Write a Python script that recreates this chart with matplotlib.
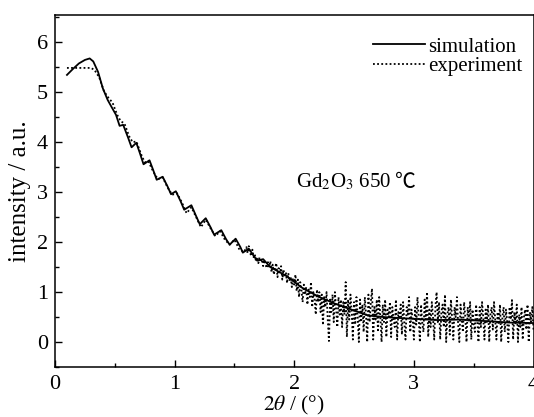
import matplotlib
matplotlib.use("Agg")
import matplotlib.pyplot as plt
import numpy as np

plt.rcParams['font.family'] = ['Liberation Serif', 'DejaVu Serif', 'Noto Sans CJK SC']
plt.rcParams['mathtext.fontset'] = 'stix'

# simulation curve
sim_x = [0.10, 0.15, 0.20, 0.25, 0.29, 0.32, 0.36, 0.40, 0.44, 0.47, 0.51, 0.54, 0.57,
         0.61, 0.64, 0.68, 0.71, 0.74, 0.79, 0.82, 0.85, 0.90, 0.94, 0.97, 1.01, 1.05,
         1.08, 1.14, 1.18, 1.21, 1.26, 1.30, 1.33, 1.39, 1.43, 1.46, 1.51, 1.55, 1.57,
         1.62, 1.66, 1.69, 1.74, 1.80, 1.93, 2.07, 2.21, 2.35, 2.49, 2.62, 2.75, 2.96,
         3.20, 3.38, 3.60, 3.80, 4.00]
sim_y = [5.35, 5.47, 5.58, 5.65, 5.68, 5.62, 5.41, 5.08, 4.85, 4.72, 4.55, 4.33, 4.35,
         4.10, 3.90, 3.99, 3.78, 3.56, 3.64, 3.45, 3.25, 3.31, 3.12, 2.96, 3.02, 2.82,
         2.65, 2.74, 2.52, 2.36, 2.48, 2.30, 2.15, 2.24, 2.06, 1.95, 2.07, 1.90, 1.79,
         1.87, 1.73, 1.63, 1.66, 1.50, 1.33, 1.08, 0.90, 0.76, 0.64, 0.53, 0.50, 0.47,
         0.44, 0.45, 0.42, 0.39, 0.38]

# experiment: smooth part
exp_x1 = [0.10, 0.15, 0.20, 0.25, 0.30, 0.33, 0.37, 0.41, 0.45, 0.48, 0.52, 0.55, 0.58,
          0.62, 0.65, 0.68, 0.72, 0.75, 0.78, 0.82, 0.86, 0.90, 0.94, 0.98, 1.02, 1.06,
          1.10, 1.14, 1.18, 1.22, 1.26, 1.30, 1.34, 1.38, 1.42, 1.46, 1.50, 1.54, 1.58]
exp_y1 = [5.49, 5.49, 5.49, 5.49, 5.49, 5.45, 5.30, 5.02, 4.88, 4.80, 4.55, 4.42, 4.38,
          4.12, 4.00, 4.02, 3.76, 3.60, 3.62, 3.42, 3.26, 3.30, 3.10, 2.95, 2.98, 2.80,
          2.58, 2.70, 2.50, 2.30, 2.45, 2.28, 2.12, 2.22, 2.05, 1.95, 2.05, 1.86, 1.80]
# experiment: noisy part, x from 1.60 to 4.00 step 0.01
exp_y2 = [1.90, 1.78, 1.92, 1.80, 1.72, 1.85, 1.70, 1.76, 1.62, 1.70,
          1.58, 1.70, 1.60, 1.66, 1.52, 1.64, 1.55, 1.48, 1.60, 1.50,
          1.62, 1.40, 1.55, 1.35, 1.50, 1.58, 1.30, 1.48, 1.38, 1.52,
          1.25, 1.45, 1.30, 1.40, 1.18, 1.38, 1.22, 1.30, 1.10, 1.28,
          1.15, 1.35, 1.02, 1.25, 0.90, 1.20, 1.05, 0.80, 1.15, 0.95,
          1.10, 0.75, 1.05, 0.90, 1.20, 0.70, 1.00, 0.85, 0.55, 1.05,
          0.80, 1.00, 0.60, 0.95, 0.34, 0.90, 0.70, 1.00, 0.45, 0.02,
          0.85, 0.60, 0.95, 0.40, 1.00, 0.65, 0.30, 0.90, 0.55, 0.85,
          0.30, 0.80, 0.55, 1.20, 0.10, 0.85, 0.45, 0.95, 0.60, 0.05,
          0.80, 0.35, 0.90, 0.50, 0.00, 0.85, 0.40, 0.75, 0.20, 0.90,
          0.55, 0.00, 0.95, 0.40, 0.80, 1.07, 0.05, 0.70, 0.45, 0.85,
          0.20, 0.90, 0.50, 0.00, 0.75, 0.40, 0.85, 0.10, 0.65, 0.50,
          0.80, 0.10, 0.70, 0.45, 0.30, 0.85, 0.05, 0.60, 0.50, 0.75,
          0.15, 0.80, 0.40, 0.05, 0.70, 0.55, 0.90, 0.20, 0.65, 0.45,
          0.05, 0.70, 0.35, 0.90, 0.50, 0.00, 0.75, 0.40, 0.20, 0.85,
          0.45, 1.00, 0.10, 0.65, 0.30, 0.80, 0.50, 0.05, 0.70, 1.00,
          0.40, 0.80, 0.05, 0.60, 0.75, 0.30, 0.95, 0.00, 0.55, 0.70,
          0.15, 0.85, 0.45, 0.05, 0.70, 0.50, 0.90, 0.35, 0.00, 0.75,
          0.45, 0.20, 0.80, 0.50, 0.00, 0.70, 0.40, 0.80, 0.05, 0.65,
          0.35, 0.20, 0.75, 0.45, 0.00, 0.70, 0.30, 0.80, 0.50, 0.05,
          0.65, 0.40, 0.75, 0.00, 0.55, 0.70, 0.25, 0.80, 0.45, 0.05,
          0.60, 0.35, 0.75, 0.00, 0.50, 0.70, 0.20, 0.65, 0.40, 0.00,
          0.70, 0.45, 0.84, 0.05, 0.60, 0.35, 0.75, 0.00, 0.55, 0.30,
          0.70, 0.05, 0.50, 0.65, 0.25, 0.75, 0.00, 0.60, 0.40, 0.70,
          0.25]
exp_x2 = list(np.round(np.arange(len(exp_y2)) * 0.01 + 1.60, 2))

exp_x = exp_x1 + exp_x2
exp_y = exp_y1 + exp_y2

fig = plt.figure(figsize=(5.34, 4.17), dpi=100)
ax = fig.add_axes([55/534, 1 - 367/417, 478.5/534, (367-15)/417])

ax.plot(sim_x, sim_y, color='black', lw=1.3, label='simulation')
ax.plot(exp_x, exp_y, color='black', lw=1.3, linestyle=(0, (1, 1.3)), label='experiment')

ax.set_xlim(0, 4.0)
ax.set_ylim(-0.5, 6.55)
ax.set_xticks([0, 1, 2, 3, 4])
ax.set_yticks([0, 1, 2, 3, 4, 5, 6])
ax.set_xticks([0.5, 1.5, 2.5, 3.5], minor=True)
ax.set_yticks([-0.5, 0.5, 1.5, 2.5, 3.5, 4.5, 5.5, 6.5], minor=True)
ax.tick_params(which='both', direction='in', labelsize=16, width=1.0)
ax.tick_params(which='major', length=5)
ax.tick_params(which='minor', length=3)
ax.tick_params(axis='y', pad=5)
ax.tick_params(axis='x', pad=6)
for s in ax.spines.values():
    s.set_linewidth(1.1)

ax.set_xlabel(r'$\mathit{2\theta}$ / (°)', fontsize=15.5, labelpad=0)
ax.set_ylabel('intensity / a.u.', fontsize=18, labelpad=4)

leg = ax.legend(loc='upper right', bbox_to_anchor=((522 - 55) / 478.5, (367 - 37) / 352),
                frameon=False, fontsize=15, handlelength=2.5, handletextpad=0.15,
                labelspacing=0.0, borderaxespad=0.0, borderpad=0.0)

t = ax.text((296 - 55) / 478.5, (367 - 182) / 352, 'Gd$_2$O$_3$ 650', transform=ax.transAxes,
            fontsize=15, ha='left', va='center')
ax.annotate('℃', xy=(1, 0.5), xycoords=t, xytext=(3, 0), textcoords='offset points',
            fontsize=15, ha='left', va='center', family=['Noto Sans CJK SC', 'DejaVu Sans'])

fig.savefig('out.png', dpi=100)
